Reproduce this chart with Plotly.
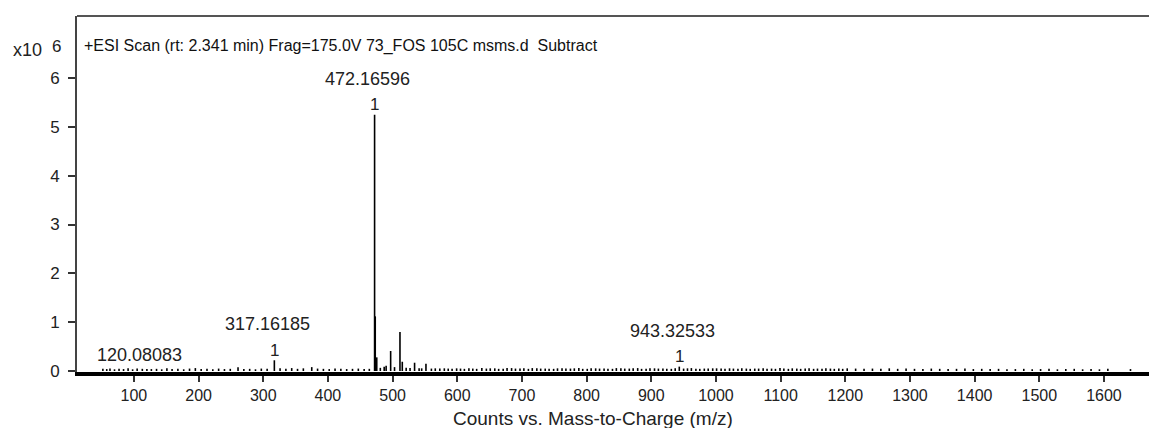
import plotly.graph_objects as go

# ---- data (counts) ----
major_mz = [120.08083, 317.16185, 472.16596, 473.17, 475.5, 490.0, 497.0, 511.4, 515.0, 534.0, 551.6, 573.0, 943.32533]
major_counts = [40000, 220000, 5250000, 1120000, 280000, 110000, 410000, 800000, 190000, 170000, 150000, 50000, 90000]

minor_mz = [52, 58, 63, 70, 77, 84, 91, 98, 105, 113, 127, 135, 143, 151, 159, 168, 177, 186, 195,
            204, 213, 222, 231, 240, 249, 261, 270, 279, 288, 297, 306, 326, 335, 344, 353, 362, 375,
            384, 393, 402, 411, 420, 429, 438, 447, 456, 464, 481, 487, 503, 521, 527, 541, 545, 560,
            566, 580, 586, 592, 599, 605, 611, 618, 624, 630, 638, 645, 651, 658, 664, 671, 677, 684,
            690, 697, 703, 710, 716, 723, 729, 736, 742, 749, 755, 762, 768, 775, 781, 788, 794, 801,
            807, 814, 820, 827, 833, 840, 846, 853, 859, 866, 872, 879, 885, 892, 898, 905, 911, 918,
            924, 931, 937, 950, 956, 962, 969, 975, 982, 988, 995, 1001, 1008, 1014, 1021, 1027, 1034,
            1040, 1047, 1053, 1060, 1066, 1073, 1079, 1086, 1092, 1099, 1105, 1112, 1118, 1125, 1131,
            1138, 1144, 1151, 1157, 1164, 1170, 1177, 1183, 1190, 1196, 1203, 1216, 1229, 1242, 1255,
            1268, 1281, 1294, 1307, 1320, 1333, 1346, 1359, 1372, 1385, 1398, 1411, 1424, 1437, 1450,
            1463, 1476, 1489, 1502, 1515, 1528, 1541, 1554, 1567, 1580, 1593, 1606, 1641]
minor_counts = [45000, 40000, 50000, 35000, 45000, 40000, 55000, 35000, 50000, 45000, 40000, 45000, 35000,
                55000, 40000, 45000, 35000, 50000, 60000, 40000, 45000, 35000, 50000, 40000, 45000, 75000,
                40000, 45000, 35000, 50000, 45000, 55000, 45000, 60000, 45000, 55000, 80000, 50000, 45000,
                40000, 50000, 45000, 40000, 45000, 50000, 40000, 45000, 65000, 90000, 80000, 65000, 60000,
                55000, 55000, 50000, 55000, 55000, 50000, 45000, 55000, 50000, 45000, 55000, 50000, 45000,
                60000, 50000, 55000, 55000, 45000, 45000, 60000, 60000, 50000, 50000, 55000, 45000, 60000,
                55000, 50000, 50000, 45000, 45000, 55000, 55000, 50000, 50000, 55000, 60000, 45000, 45000,
                55000, 55000, 50000, 50000, 45000, 45000, 60000, 55000, 50000, 50000, 55000, 60000, 45000,
                45000, 55000, 55000, 50000, 50000, 45000, 45000, 55000, 50000, 55000, 60000, 45000, 45000,
                50000, 50000, 55000, 55000, 50000, 45000, 55000, 50000, 45000, 55000, 50000, 45000, 50000,
                50000, 55000, 45000, 50000, 45000, 60000, 50000, 45000, 55000, 50000, 45000, 50000, 55000,
                45000, 50000, 45000, 55000, 50000, 45000, 50000, 45000, 55000, 50000, 45000, 50000, 45000,
                55000, 45000, 50000, 45000, 40000, 50000, 45000, 40000, 45000, 50000, 40000, 45000, 40000,
                45000, 35000, 40000, 45000, 35000, 40000, 45000, 35000, 40000, 45000, 35000, 40000, 35000,
                45000, 40000, 35000, 40000, 45000, 35000, 40000]
minor_counts = minor_counts[:len(minor_mz)]

labels_mz = [120.08083, 317.16185, 472.16596, 943.32533]
labels_counts = [40000, 220000, 5250000, 90000]
labels_text = ["120.08083", "317.16185", "472.16596", "943.32533"]
labels_charge = ["", "1", "1", "1"]

ytick_vals = [0, 1e6, 2e6, 3e6, 4e6, 5e6, 6e6]
ytick_text = ["0", "1", "2", "3", "4", "5", "6"]
xtick_vals = list(range(100, 1700, 100))

title_text = "+ESI Scan (rt: 2.341 min) Frag=175.0V 73_FOS 105C msms.d  Subtract"
xaxis_title = "Counts vs. Mass-to-Charge (m/z)"

# ---- build stick spectrum ----
xs, ys = [], []
for m, c in list(zip(minor_mz, minor_counts)) + list(zip(major_mz, major_counts)):
    xs += [m, m, None]
    ys += [0, c, None]

FONT = "Liberation Sans, Arial, sans-serif"
TXT = "#222"
fig = go.Figure()
fig.add_trace(go.Scatter(x=xs, y=ys, mode="lines", line=dict(color="black", width=1.6),
                         hoverinfo="skip", showlegend=False))

for m, c, t, z in zip(labels_mz, labels_counts, labels_text, labels_charge):
    if z:
        fig.add_annotation(x=m, y=c, text=z, showarrow=False, yanchor="middle", yshift=10,
                           font=dict(family=FONT, size=17, color=TXT))
        fig.add_annotation(x=m, y=c, text=t, showarrow=False, yanchor="middle", yshift=36,
                           xshift=-7, font=dict(family=FONT, size=18, color=TXT))
    else:
        fig.add_annotation(x=m, y=c, text=t, showarrow=False, yanchor="middle", yshift=14,
                           xshift=-7, font=dict(family=FONT, size=18, color=TXT))

fig.add_annotation(xref="paper", yref="paper", x=0.0046, y=0.9157, xanchor="left", yanchor="middle",
                   text=title_text, showarrow=False, font=dict(family=FONT, size=16, color="#111"))
fig.add_annotation(xref="paper", yref="paper", x=-0.0611, y=0.9045, xanchor="left", yanchor="middle",
                   text="x10", showarrow=False, font=dict(family=FONT, size=18, color=TXT))
fig.add_annotation(xref="paper", yref="paper", x=-0.013, y=0.9157, xanchor="right", yanchor="middle",
                   text="6", showarrow=False, font=dict(family=FONT, size=17, color=TXT))
fig.add_annotation(xref="paper", yref="paper", x=0.478, y=-0.132, xanchor="center", yanchor="middle",
                   text=xaxis_title, showarrow=False, font=dict(family=FONT, size=19, color=TXT))

# top border
fig.add_shape(type="line", xref="paper", yref="paper", x0=0, x1=1, y0=1, y1=1,
              line=dict(color="#555", width=2))

fig.update_layout(
    width=1149, height=420,
    margin=dict(l=69, r=0, t=8, b=56),
    plot_bgcolor="white", paper_bgcolor="white",
    font=dict(family=FONT, size=17, color=TXT),
    xaxis=dict(range=[12, 1682], tickvals=xtick_vals, ticks="outside", ticklen=6, tickwidth=1.5,
               tickcolor="#333", showline=True, linecolor="black", linewidth=4, showgrid=False,
               zeroline=False, ticklabelstandoff=0, tickfont=dict(size=16)),
    yaxis=dict(range=[-20000, 7270000], tickvals=ytick_vals, ticktext=ytick_text, ticks="outside",
               ticklen=7, tickwidth=1.5, tickcolor="#333", showline=True, linecolor="#444",
               linewidth=2, showgrid=False, zeroline=False, ticklabelstandoff=5),
)

fig.write_html("out.html")
